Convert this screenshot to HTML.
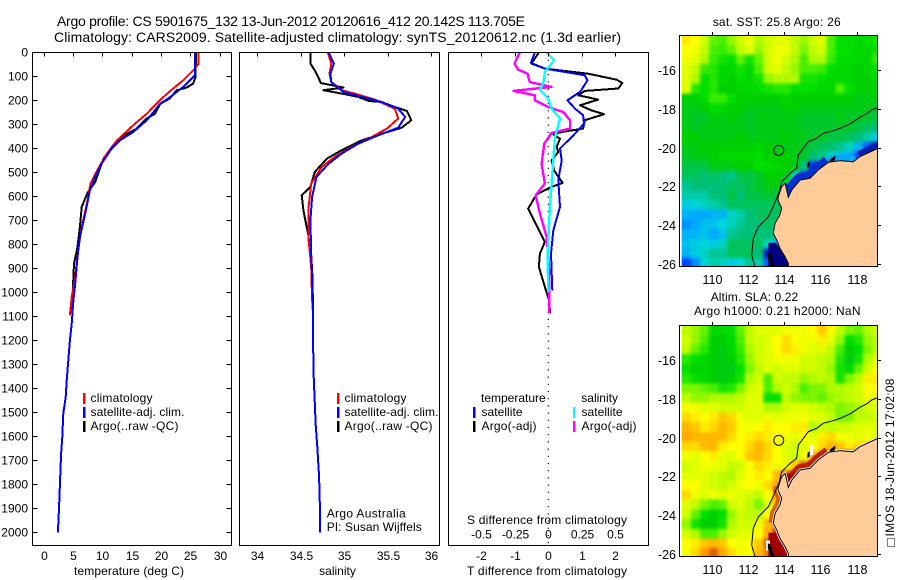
<!DOCTYPE html>
<html lang="en">
<head>
<meta charset="utf-8">
<title>Argo profile chart</title>
<style>
html,body{margin:0;padding:0;background:#fff;}
svg{display:block;}
text{font-family:"Liberation Sans",sans-serif;font-size:12px;fill:#000;}
.t14{font-size:14px;}
.mid{text-anchor:middle;}
.end{text-anchor:end;}
.ml{font-size:12.5px;}
</style>
</head>
<body>
<svg id="chart" xmlns="http://www.w3.org/2000/svg" width="900" height="580" viewBox="0 0 900 580">
<defs>
<clipPath id="clip-sst"><rect x="681.7" y="35" width="196" height="231"/></clipPath>
<clipPath id="clip-sla"><rect x="681.7" y="325" width="196" height="231"/></clipPath>
<filter id="soften" filterUnits="userSpaceOnUse" x="640" y="0" width="260" height="580" color-interpolation-filters="sRGB"><feGaussianBlur stdDeviation="1.6"/></filter>
</defs>
<rect x="0" y="0" width="900" height="580" fill="#fff"/>
<text class="t14" x="57" y="26" textLength="468" lengthAdjust="spacing">Argo profile: CS 5901675_132 13-Jun-2012 20120616_412 20.142S 113.705E</text>
<text class="t14" x="54" y="42" textLength="567" lengthAdjust="spacing">Climatology: CARS2009. Satellite-adjusted climatology: synTS_20120612.nc (1.3d earlier)</text>

<g id="panel-t"></g>
<g id="panel-s"></g>
<g id="panel-d"></g>
<g id="map-sst"></g>
<g id="map-sla"></g>

<text x="74" y="575" textLength="110" lengthAdjust="spacing">temperature (deg C)</text>
<text class="mid" x="337.5" y="575">salinity</text>
<text x="467" y="575" textLength="160" lengthAdjust="spacing">T difference from climatology</text>
<text x="467" y="524" textLength="160" lengthAdjust="spacing">S difference from climatology</text>

<g>
<rect x="83" y="393" width="2.5" height="11" fill="#f00"/>
<rect x="83" y="407" width="2.5" height="11" fill="#00f"/>
<rect x="83" y="421" width="2.5" height="11" fill="#000"/>
<text x="90.5" y="402" textLength="62">climatology</text>
<text x="90.5" y="416" textLength="94">satellite-adj. clim.</text>
<text x="90.5" y="430" textLength="88">Argo(..raw -QC)</text>
</g>
<g>
<rect x="337" y="393" width="2.5" height="11" fill="#f00"/>
<rect x="337" y="407" width="2.5" height="11" fill="#00f"/>
<rect x="337" y="421" width="2.5" height="11" fill="#000"/>
<text x="344.5" y="402" textLength="62">climatology</text>
<text x="344.5" y="416" textLength="94">satellite-adj. clim.</text>
<text x="344.5" y="430" textLength="88">Argo(..raw -QC)</text>
<text x="326.7" y="517.5" textLength="79">Argo Australia</text>
<text x="326.7" y="531" textLength="95">PI: Susan Wijffels</text>
</g>
<g>
<text x="481" y="402">temperature</text>
<text x="581.3" y="402">salinity</text>
<rect x="473" y="407" width="2.5" height="11" fill="#00f"/>
<rect x="473" y="421" width="2.5" height="11" fill="#000"/>
<rect x="573" y="407" width="2.5" height="11" fill="#0ff"/>
<rect x="573" y="421" width="2.5" height="11" fill="#f0f"/>
<text x="481.5" y="416" textLength="41">satellite</text>
<text x="481.5" y="430" textLength="55">Argo(-adj)</text>
<text x="581.5" y="416" textLength="41">satellite</text>
<text x="581.5" y="430" textLength="55">Argo(-adj)</text>
</g>

<text x="712.7" y="26" textLength="128">sat. SST: 25.8 Argo: 26</text>
<text x="710.7" y="301" textLength="87.5">Altim. SLA: 0.22</text>
<text x="694" y="315" textLength="166.5">Argo h1000: 0.21 h2000: NaN</text>
<text transform="translate(894 536.5) rotate(-90)" textLength="158">IMOS 18-Jun-2012 17:02:08</text>
<rect x="887.5" y="538.5" width="7" height="8" fill="none" stroke="#000" stroke-width="1" stroke-dasharray="1 1"/>
</svg>

<script>
// ---- profile data (depth in dbar, temperature deg C, salinity psu) ----
const depthTicks = [0,100,200,300,400,500,600,700,800,900,1000,1100,1200,1300,1400,1500,1600,1700,1800,1900,2000];
const tempTicks = [0,5,10,15,20,25,30];
const salTicks = [34,34.5,35,35.5,36];
const salTickLabels = ['34','34.5','35','35.5','36'];
const tDiffTicks = [-2,-1,0,1,2];
const tDiffLabels = ['-2','-1','0','1','2'];
const sDiffLabels = ['-0.5','-0.25','0','0.25','0.5'];

const argoTempDepth = [0,103,130,147,158,193,214,256,276,318,339,388,443,540,586,644,728,811,881,992,1089];
const argoTempValue = [26.0,25.9,25.5,24.4,22.7,21.5,19.9,19.0,17.6,15.9,14.2,11.9,10.2,8.8,7.5,6.5,6.2,5.8,5.2,5.0,4.8];
const climTempDepth = [0,47,68,117,151,193,256,297,367,422,485,547,631,728,825,936,1019,1096];
const climTempValue = [26.4,26.4,25.8,23.8,22.1,20.1,17.6,15.6,12.5,10.8,9.3,8.0,7.4,6.5,5.9,5.4,4.8,4.5];
const satTempDepth = [0,96,144,186,214,283,332,367,401,464,519,575,672,769,853,964,1033,1131,1200,1367,1436,1505,1603,1672,1769,1880,2000];
const satTempValue = [25.8,25.8,23.8,21.6,19.9,17.6,15.3,13.0,11.6,9.9,8.8,7.9,7.1,6.2,5.8,5.4,5.1,4.8,4.5,3.95,3.78,3.38,3.2,3.0,2.85,2.68,2.45];

const argoSalDepth = [0,47,75,103,128,147,158,172,186,203,207,228,244,283,314,339,367,408,443,499,561,596,658,769,839,894,1047,1089];
const argoSalValue = [34.61,34.61,34.66,34.70,34.73,34.99,34.76,34.97,35.16,35.28,35.43,35.58,35.72,35.77,35.66,35.43,35.20,34.97,34.80,34.66,34.61,34.51,34.53,34.59,34.61,34.63,34.64,34.64];
const climSalDepth = [0,47,89,124,158,172,197,235,276,318,360,394,436,478,547,644,783,894,1033,1089];
const climSalValue = [34.81,34.85,34.83,34.85,34.97,35.12,35.35,35.58,35.62,35.49,35.28,35.08,34.89,34.74,34.62,34.59,34.59,34.62,34.63,34.64];
const satSalDepth = [0,47,89,124,165,186,207,235,269,314,346,381,422,464,519,603,700,839,1061,1200,1367,1450,1547,1644,1769,1894,2000];
const satSalValue = [34.82,34.88,34.84,34.85,34.99,35.2,35.43,35.62,35.70,35.62,35.39,35.16,34.97,34.82,34.68,34.63,34.61,34.62,34.64,34.64,34.65,34.66,34.67,34.69,34.71,34.72,34.72];

const argoTDiffDepth = [0,47,68,89,114,128,151,161,179,197,221,242,258,283,318,332,342,360,394,415,450,494,544,561,592,651,790,839,894,978,1033,1089];
const argoTDiffValue = [-0.28,-0.5,-0.1,1.19,2.04,2.21,2.09,1.09,0.9,1.49,0.95,1.29,1.67,1.09,1.04,0.4,0.15,0.35,0.25,0.3,0.1,0.18,0.43,0.1,-0.35,-0.6,-0.1,-0.25,-0.28,-0.1,0.02,0.06];
const satTDiffDepth = [0,44,68,96,117,165,200,235,262,297,346,401,450,533,644,742,839,992];
const satTDiffValue = [-0.4,-0.52,-0.1,1.09,1.17,0.95,0.57,0.8,1.04,1.07,0.75,0.35,0.4,0.3,0.35,0.15,0.08,0.12];
const argoSDiffDepth = [0,47,72,89,124,144,161,179,200,228,249,283,318,336,381,464,547,596,672,769,922,1089];
const argoSDiffValue = [-0.212,-0.252,-0.225,-0.155,-0.138,0.025,-0.26,-0.1,-0.1,0,0.112,0.162,0.162,0.025,-0.03,-0.05,-0.025,-0.095,-0.062,-0.012,0.008,0.008];
const satSDiffDepth = [0,33,82,131,156,193,235,276,353,506,644,839,999];
const satSDiffValue = [-0.012,0.045,-0.025,-0.038,-0.062,0,0.025,0.088,0.05,0.03,0.012,-0.005,0];

// ---- map data: colour-scale index 0..100, cells 0.5 deg from 108.35E / 14.2S ----
const sstGrid = [
[78,76,70,60,58,64,70,74,66,70,72,72,68,64,70,72,58,50,50,48,50,52],
[76,74,68,58,56,60,68,72,64,70,74,74,68,62,68,70,58,50,50,48,48,50],
[74,72,66,56,52,50,60,52,60,70,74,70,66,58,66,66,56,50,50,48,48,56],
[72,68,56,54,48,48,52,48,58,70,72,68,64,58,58,56,50,48,48,46,48,50],
[72,66,50,54,48,46,50,48,52,64,66,66,66,52,52,50,48,48,48,46,46,48],
[72,54,50,54,46,46,48,48,50,52,54,54,50,50,50,48,48,58,50,46,46,46],
[46,46,50,56,56,50,46,46,46,46,46,48,46,46,46,46,46,46,46,44,44,46],
[44,44,46,50,48,46,46,44,44,44,44,46,46,44,44,44,44,44,44,44,44,42],
[44,42,42,46,44,46,44,42,44,44,44,44,44,42,42,42,42,44,42,42,42,40],
[44,42,44,44,44,44,44,42,44,44,44,44,44,42,42,42,42,42,42,40,38,36],
[46,46,44,44,44,44,46,44,44,44,44,46,44,44,42,42,40,40,38,36,32,26],
[44,44,46,46,46,46,46,46,48,46,44,44,44,42,40,38,36,34,30,22,14,2],
[42,44,44,46,48,48,48,48,50,46,46,46,44,42,36,34,30,24,20,12,4,4],
[40,40,40,44,44,44,46,46,50,50,48,46,44,36,10,14,6,4,4,4,4,4],
[38,38,36,38,36,34,40,40,42,46,46,44,32,12,6,4,4,4,4,4,4,4],
[34,36,36,36,36,38,38,40,42,44,44,38,16,8,4,4,4,4,4,4,4,4],
[32,32,32,36,36,40,36,40,40,42,40,14,12,8,4,4,4,4,4,4,4,4],
[26,28,30,32,34,38,38,38,38,38,38,36,36,36],
[22,20,20,22,22,30,32,36,38,38,38,36,36,36],
[18,20,24,24,28,30,34,36,36,38,36,36,36,36],
[22,22,24,20,24,34,36,36,36,36,34,34,34,34],
[24,26,28,26,30,38,38,38,38,30,22,20,20,20],
[22,26,30,34,34,38,38,38,36,6,0,0,0,0],
[12,18,28,32,30,26,28,34,32,14,0,0,0,0]
];
const slaGrid = [
[68,64,60,48,48,50,60,68,72,72,72,74,74,74,76,82,76,68,62,60,66,70],
[70,64,58,46,46,48,58,68,70,72,76,80,76,74,74,78,72,64,50,54,64,68],
[68,60,54,46,44,48,56,66,70,72,76,80,78,74,72,72,68,58,46,50,62,68],
[54,50,48,46,44,46,54,64,70,72,74,74,74,70,70,68,66,54,44,52,66,72],
[50,46,48,46,44,44,50,62,68,72,70,72,72,70,70,68,64,52,48,60,70,76],
[54,50,48,46,44,46,52,66,70,58,70,68,68,64,66,68,66,52,62,68,78,78],
[62,62,60,58,52,54,62,70,72,58,66,70,66,58,62,62,66,66,68,70,76,76],
[68,64,64,66,66,66,68,72,72,50,50,68,64,62,62,60,64,66,68,70,74,74],
[74,74,72,72,70,70,70,72,72,66,66,70,72,72,70,68,66,62,64,66,70,72],
[80,78,76,78,82,80,74,72,72,74,72,74,74,74,72,72,68,62,62,68,68,70],
[84,82,78,80,84,82,76,74,76,78,76,76,78,78,66,70,68,70,70,72,72,72],
[86,84,84,84,84,80,76,78,80,78,76,74,72,76,72,78,80,74,74,72,74,72],
[80,80,84,84,78,76,76,80,84,80,76,72,70,72,76,80,84,82,78,80,80,80],
[74,72,76,78,72,72,76,82,84,80,76,72,70,74,84,88,90,90,90,90,90,90],
[70,72,74,74,72,68,70,76,80,78,74,74,82,92,98,100,100,100,100,100,100,100],
[72,72,72,70,68,66,72,76,78,76,84,92,100,100,100,100,100,100,100,100,100,100],
[76,76,72,70,68,70,74,76,74,80,86,96,100,100,100,100,100,100,100,100,100,100],
[80,74,72,74,72,74,72,70,68,76,86,90,90,90],
[72,68,62,58,60,70,72,68,62,72,84,88,88,88],
[70,60,50,46,50,64,70,68,68,76,86,94,94,94],
[64,52,46,46,52,66,70,70,74,84,90,92,92,92],
[70,66,58,58,64,70,72,72,76,86,96,100,100,100],
[76,78,82,84,82,76,74,76,82,92,100,100,100,100],
[74,80,88,92,86,80,74,76,84,90,100,100,100,100]
];
const paletteStops = [0,10,20,28,36,42,46,50,58,66,72,76,82,88,94,100];
const paletteColors = [[0,0,128],[0,48,255],[0,168,255],[0,216,216],[0,192,120],[0,200,40],[0,208,0],[0,224,0],[72,240,0],[176,250,0],[224,255,0],[255,255,0],[255,200,0],[255,152,0],[208,64,0],[160,0,0]];
const mapLonTicks = [110,112,114,116,118];
const mapLatTicks = [-16,-18,-20,-22,-24,-26];
const argoLon = 113.705;
const argoLat = -20.142;
const coastLon = [119.3,119.17,118.19,117.82,117.09,116.44,115.89,115.43,114.88,114.42,114.23,114.1,114.05,113.87,113.68,113.66,113.87,113.77,113.5,113.4,113.59,113.77,114.05,114.23,114.23,114.23,119.3];
const coastLat = [-20.04,-20.04,-20.47,-20.73,-20.67,-20.76,-21.15,-21.58,-21.67,-22.19,-22.56,-22.0,-21.84,-22.01,-22.53,-22.7,-23.13,-23.47,-23.9,-24.42,-24.76,-25.19,-25.62,-25.97,-26.14,-26.4,-26.4];
const isobathLon = [119.17,118.84,118.56,118.19,117.64,117.09,116.72,116.17,115.8,115.34,115.06,114.79,114.69,114.33,113.87,113.74,113.4,113.13,112.58,112.3,112.21,112.39];
const isobathLat = [-17.94,-18.06,-18.27,-18.44,-18.78,-19.01,-19.13,-19.26,-19.52,-19.69,-20.04,-20.38,-21.07,-21.33,-21.76,-22.27,-23.04,-23.56,-24.08,-24.68,-25.54,-26.14];
const islandLon = [115.3,115.42,115.4,115.28];
const islandLat = [-20.8,-20.7,-21.0,-21.05];
const dampierLon = [116.55,116.85,116.8,116.5];
const dampierLat = [-20.6,-20.4,-20.65,-20.75];
const sharkLon = [113.1,113.25,113.45,113.3,113.1];
const sharkLat = [-25.45,-25.5,-26.14,-26.14,-25.7];
// coastal bands and shallow bays where the satellite fields differ sharply
const northStripLon = [118.0,117.82,117.09,116.44];
const northStripLat = [-20.55,-20.73,-20.67,-20.76];
const eastStripLon = [119.3,119.17,118.19];
const eastStripLat = [-20.04,-20.04,-20.47];
const pilbaraStripLon = [116.44,115.89,115.43,114.88,114.42];
const pilbaraStripLat = [-20.76,-21.15,-21.58,-21.67,-22.19];
const capeStripLon = [113.68,113.66,113.87,113.77,113.5,113.4];
const capeStripLat = [-22.53,-22.7,-23.13,-23.47,-23.9,-24.42];
const sharkBayLon = [113.13,113.55,114.2,114.2,113.13];
const sharkBayLat = [-24.9,-24.9,-25.9,-26.2,-26.2];
const exmouthGulfLon = [114.05,114.7,114.3,114.05];
const exmouthGulfLat = [-21.85,-21.85,-22.56,-22.0];

// ---- axis functions ----
const NS = 'http://www.w3.org/2000/svg';
const depthY = d => 52.3 + d * 0.24;
const tempX = t => 43.5 + t * 5.87;
const salX = s => 257.3 + (s - 34) * 87;
const tDiffX = t => 548.3 + t * 33.5;
const sDiffX = s => 548.3 + s * 134;
const lonX = lon => 711.7 + (lon - 110) * 18.1;
const latY = lat => 70 + (-16 - lat) * 19.4;

function make(tag, parent, attrs, name) {
  const el = document.createElementNS(NS, tag);
  for (const k in attrs) el.setAttribute(k, attrs[k]);
  
  
  parent.appendChild(el);
  return el;
}
function label(parent, x, y, str, cls, name) {
  const t = make('text', parent, {x: x, y: y, class: cls}, name);
  t.textContent = str;
  return t;
}
function profile(parent, depths, values, xFn, color, name, width) {
  const pts = depths.map((d, i) => xFn(values[i]).toFixed(1) + ',' + depthY(d).toFixed(1)).join(' ');
  make('polyline', parent, {points: pts, fill: 'none', stroke: color, 'stroke-width': width || 2, 'stroke-linejoin': 'round', 'shape-rendering': 'crispEdges'}, name);
}
function frame(parent, x0, x1, y0, y1) {
  make('rect', parent, {x: x0, y: y0, width: x1 - x0, height: y1 - y0, fill: 'none', stroke: '#000', 'stroke-width': 1}, 'axes-frame');
}
function seg(parent, x1, y1, x2, y2, name) {
  make('line', parent, {x1: x1, y1: y1, x2: x2, y2: y2, stroke: '#000', 'stroke-width': 1}, name);
}

// ---- temperature panel ----
const pT = document.getElementById('panel-t');
profile(pT, argoTempDepth, argoTempValue, tempX, '#000', 'argo-temperature-line');
profile(pT, climTempDepth, climTempValue, tempX, '#f00', 'climatology-temperature-line');
profile(pT, satTempDepth, satTempValue, tempX, '#00f', 'satellite-temperature-line');
frame(pT, 32.5, 231.5, 52.5, 545.5);
depthTicks.forEach(d => {
  const y = Math.round(depthY(d)) + 0.5;
  seg(pT, 32.5, y, 37.5, y, 'depth-tick-left');
  seg(pT, 226.5, y, 231.5, y, 'depth-tick-right');
  label(pT, 28, y + 4, String(d), 'end', 'depth-tick-label');
});
tempTicks.forEach(t => {
  const x = Math.round(tempX(t)) + 0.5;
  seg(pT, x, 52.5, x, 56.5, 'temperature-tick');
  label(pT, x, 560, String(t), 'mid', 'temperature-tick-label');
});

// ---- salinity panel ----
const pS = document.getElementById('panel-s');
profile(pS, argoSalDepth, argoSalValue, salX, '#000', 'argo-salinity-line');
profile(pS, climSalDepth, climSalValue, salX, '#f00', 'climatology-salinity-line');
profile(pS, satSalDepth, satSalValue, salX, '#00f', 'satellite-salinity-line');
frame(pS, 239.5, 439.5, 52.5, 545.5);
salTicks.forEach((s, i) => {
  const x = Math.round(salX(s)) + 0.5;
  seg(pS, x, 52.5, x, 56.5, 'salinity-tick');
  label(pS, x, 560, salTickLabels[i], 'mid', 'salinity-tick-label');
});

// ---- difference panel ----
const pD = document.getElementById('panel-d');
make('line', pD, {x1: tDiffX(0), y1: 52.5, x2: tDiffX(0), y2: 545.5, stroke: '#000', 'stroke-width': 1.2, 'stroke-dasharray': '1.2 6'}, 'zero-difference-line');
profile(pD, argoTDiffDepth, argoTDiffValue, tDiffX, '#000', 'argo-t-difference-line');
profile(pD, satTDiffDepth, satTDiffValue, tDiffX, '#00f', 'satellite-t-difference-line');
profile(pD, argoSDiffDepth, argoSDiffValue, sDiffX, '#f0f', 'argo-s-difference-line', 2.4);
profile(pD, satSDiffDepth, satSDiffValue, sDiffX, '#0ff', 'satellite-s-difference-line', 2.4);
frame(pD, 448.5, 648.5, 52.5, 545.5);
tDiffTicks.forEach((t, i) => {
  const x = Math.round(tDiffX(t)) + 0.5;
  seg(pD, x, 52.5, x, 56.5, 't-difference-tick');
  label(pD, x, 560, tDiffLabels[i], 'mid', 't-difference-tick-label');
  label(pD, x, 538.5, sDiffLabels[i], 'mid', 's-difference-tick-label');
});

// ---- maps ----
function scaleColor(v) {
  let i = 0;
  while (i < paletteStops.length - 2 && v > paletteStops[i + 1]) i++;
  const f = Math.max(0, Math.min(1, (v - paletteStops[i]) / (paletteStops[i + 1] - paletteStops[i])));
  const a = paletteColors[i], b = paletteColors[i + 1];
  return 'rgb(' + a.map((c, k) => Math.round(c + (b[k] - c) * f)).join(',') + ')';
}
function polyPts(lons, lats, dy) {
  return lons.map((lon, i) => lonX(lon).toFixed(1) + ',' + (latY(lats[i]) + dy).toFixed(1)).join(' ');
}
function band(parent, lons, lats, dy, color, width, name) {
  make('polyline', parent, {points: polyPts(lons, lats, dy), fill: 'none', stroke: color, 'stroke-width': width, 'stroke-linejoin': 'round'}, name);
}
function drawMap(id, clip, grid, dy, isSla) {
  const root = document.getElementById(id);
  const g = make('g', root, {'clip-path': 'url(#' + clip + ')'}, 'map-image');
  const cells = make('g', g, {filter: 'url(#soften)'}, 'map-cells');
  grid.forEach((row, j) => {
    row.forEach((v, i) => {
      const lon = 108.35 + i * 0.5;
      const lat = -14.2 - j * 0.5;
      // outermost cells overhang the clip so the softening has no pale fringe
      const padL = i === 0 ? 15 : 0;
      const padR = i === row.length - 1 ? 15 : 0;
      const padT = j === 0 ? 15 : 0;
      const padB = j === grid.length - 1 ? 15 : 0;
      make('rect', cells, {x: (lonX(lon) - padL).toFixed(1), y: (latY(lat) + dy - padT).toFixed(1), width: 9.6 + padL + padR, height: 10.2 + padT + padB, fill: scaleColor(v), 'shape-rendering': 'crispEdges'}, 'map-cell');
    });
  });
  if (isSla) {
    band(g, northStripLon, northStripLat, dy, '#ffb000', 6, 'coastal-anomaly-band');
    band(g, pilbaraStripLon, pilbaraStripLat, dy, '#c02000', 12, 'coastal-anomaly-band');
    band(g, capeStripLon, capeStripLat, dy, '#d86000', 10, 'coastal-anomaly-band');
    make('polygon', g, {points: polyPts(sharkBayLon, sharkBayLat, dy), fill: '#a00000'}, 'shark-bay-anomaly');
    make('polygon', g, {points: polyPts(exmouthGulfLon, exmouthGulfLat, dy), fill: '#a00000'}, 'exmouth-gulf-anomaly');
    make('polygon', g, {points: polyPts(coastLon, coastLat, dy), fill: 'none', stroke: '#fff', 'stroke-width': 2.6}, 'missing-data-coast-strip');
    make('rect', g, {x: lonX(115.43), y: latY(-20.38) + dy, width: 3, height: 10, fill: '#fff'}, 'missing-data-patch');
    make('rect', g, {x: lonX(113.0), y: latY(-25.3) + dy, width: 4, height: 10, fill: '#fff'}, 'missing-data-patch');
  } else {
    band(g, eastStripLon, eastStripLat, dy, '#0020b0', 12, 'coastal-cold-band');
    band(g, northStripLon, northStripLat, dy, '#00a8ff', 12, 'coastal-cold-band');
    band(g, pilbaraStripLon, pilbaraStripLat, dy, '#0030d0', 14, 'coastal-cold-band');
    make('polygon', g, {points: polyPts(sharkBayLon, sharkBayLat, dy), fill: '#000080'}, 'shark-bay-cold-water');
    make('polygon', g, {points: polyPts(exmouthGulfLon, exmouthGulfLat, dy), fill: '#0030d0'}, 'exmouth-gulf-cold-water');
  }
  make('polygon', g, {points: polyPts(coastLon, coastLat, dy), fill: '#ffcc99', stroke: '#000', 'stroke-width': 1}, 'land');
  make('polygon', g, {points: polyPts(islandLon, islandLat, dy), fill: '#000'}, 'barrow-island');
  make('polygon', g, {points: polyPts(dampierLon, dampierLat, dy), fill: '#000'}, 'dampier-islands');
  make('polygon', g, {points: polyPts(sharkLon, sharkLat, dy), fill: '#000'}, 'dirk-hartog-island');
  make('polyline', g, {points: polyPts(isobathLon, isobathLat, dy), fill: 'none', stroke: '#000', 'stroke-width': 1}, 'isobath-line');
  make('circle', g, {cx: lonX(argoLon), cy: latY(argoLat) + dy, r: 5, fill: 'none', stroke: '#000', 'stroke-width': 1}, 'argo-position-marker');
  frame(root, 679.5, 877.5, 35.5 + dy, 266.5 + dy);
  mapLonTicks.forEach(lon => {
    const x = Math.round(lonX(lon)) + 0.5;
    seg(root, x, 35.5 + dy, x, 32 + dy, 'longitude-tick');
    label(root, x, 284 + dy, String(lon), 'mid ml', 'longitude-tick-label');
  });
  mapLatTicks.forEach(lat => {
    const y = Math.round(latY(lat) + dy) + 0.5;
    seg(root, 877.5, y, 881, y, 'latitude-tick');
    label(root, 676, y + 4.5, String(lat), 'end ml', 'latitude-tick-label');
  });
}
drawMap('map-sst', 'clip-sst', sstGrid, 0, false);
drawMap('map-sla', 'clip-sla', slaGrid, 290, true);
</script>
</body>
</html>
